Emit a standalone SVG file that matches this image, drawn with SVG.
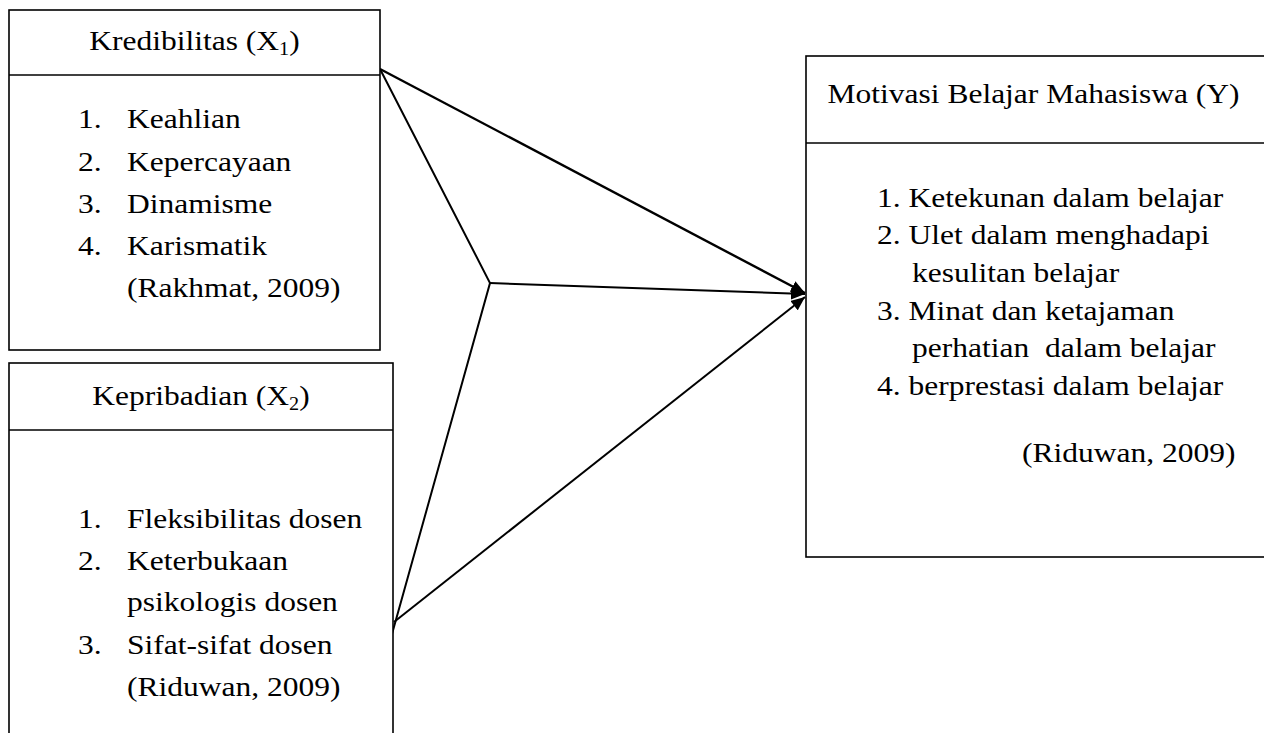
<svg xmlns="http://www.w3.org/2000/svg" width="1264" height="733" viewBox="0 0 1264 733">
<style>
.box{fill:#fff;stroke:#000;stroke-width:1.6}
.div{stroke:#000;stroke-width:1.6}
text{font-family:"Liberation Serif","Times New Roman",serif;font-size:28px;fill:#000;white-space:pre}
.c{text-anchor:middle}
.sub{font-size:18px}
.ln{stroke:#000;stroke-width:2;fill:none}
</style>
<defs>
<marker id="ah" viewBox="0 0 14 12" refX="14" refY="6" markerWidth="14" markerHeight="12" markerUnits="userSpaceOnUse" orient="auto">
<path d="M0,0 L14,6 L0,12 z" fill="#000"/>
</marker>
</defs>
<rect width="1264" height="733" fill="#fff"/>
<g id="connectors">
<line class="ln" x1="380" y1="69" x2="805" y2="293" style="stroke-width:2.4" marker-end="url(#ah)"/>
<polyline class="ln" points="380,69 490,283 392,634"/>
<line class="ln" x1="490" y1="283" x2="805" y2="294" marker-end="url(#ah)"/>
<line class="ln" x1="394" y1="622" x2="805" y2="297" marker-end="url(#ah)"/>
</g>
<g id="kredibilitas">
<rect class="box" x="9" y="10" width="371" height="340"/>
<line class="div" x1="9" y1="75" x2="380" y2="75"/>
<g transform="scale(1.125,1)">
<text class="c" x="172.9" y="50">Kredibilitas (X<tspan class="sub" dy="5">1</tspan><tspan dy="-5">)</tspan></text>
<text x="69.3" y="128">1.</text><text x="112.9" y="128">Keahlian</text>
<text x="69.3" y="171">2.</text><text x="112.9" y="171">Kepercayaan</text>
<text x="69.3" y="213">3.</text><text x="112.9" y="213">Dinamisme</text>
<text x="69.3" y="255">4.</text><text x="112.9" y="255">Karismatik</text>
<text x="112.9" y="297">(Rakhmat, 2009)</text>
</g>
</g>
<g id="kepribadian">
<rect class="box" x="9" y="363" width="384" height="390"/>
<line class="div" x1="9" y1="430" x2="393" y2="430"/>
<g transform="scale(1.125,1)">
<text class="c" x="178.7" y="405">Kepribadian (X<tspan class="sub" dy="5">2</tspan><tspan dy="-5">)</tspan></text>
<text x="69.3" y="528">1.</text><text x="112.9" y="528">Fleksibilitas dosen</text>
<text x="69.3" y="570">2.</text><text x="112.9" y="570">Keterbukaan</text>
<text x="112.9" y="611">psikologis dosen</text>
<text x="69.3" y="654">3.</text><text x="112.9" y="654">Sifat-sifat dosen</text>
<text x="112.9" y="696">(Riduwan, 2009)</text>
</g>
</g>
<g id="motivasi">
<rect class="box" x="806" y="56" width="470" height="501"/>
<line class="div" x1="806" y1="143" x2="1270" y2="143"/>
<g transform="scale(1.125,1)">
<text class="c" x="918.7" y="103">Motivasi Belajar Mahasiswa (Y)</text>
<text x="779.6" y="207">1. Ketekunan dalam belajar</text>
<text x="779.6" y="244">2. Ulet dalam menghadapi</text>
<text x="810.7" y="282">kesulitan belajar</text>
<text x="779.6" y="320">3. Minat dan ketajaman</text>
<text x="810.7" y="357">perhatian  dalam belajar</text>
<text x="779.6" y="395">4. berprestasi dalam belajar</text>
<text x="908.4" y="462">(Riduwan, 2009)</text>
</g>
</g>
</svg>
